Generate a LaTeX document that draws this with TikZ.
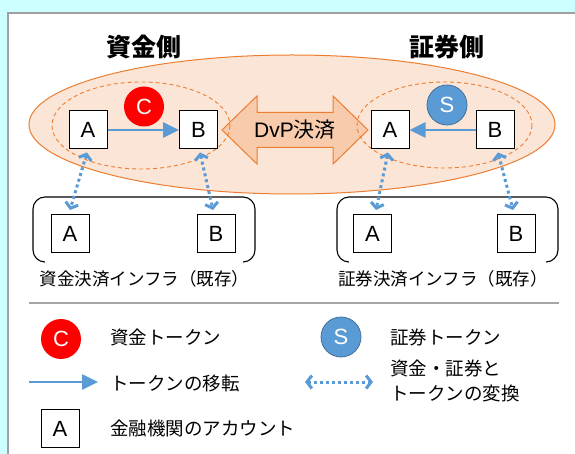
\documentclass[tikz,border=0pt]{standalone}
\usepackage{fontspec}
\setmainfont{Liberation Sans}
\newfontfamily\jp{Noto Sans CJK JP}
\usetikzlibrary{arrows.meta}
\definecolor{bgcyan}{HTML}{CCFFFF}
\definecolor{panelline}{HTML}{A0A0A0}
\definecolor{orangeline}{HTML}{ED7D31}
\definecolor{orangefill}{HTML}{FBE5D6}
\definecolor{dvpfill}{HTML}{F8CBAD}
\definecolor{tokenblue}{HTML}{5B9BD5}
\definecolor{sborder}{HTML}{41719C}
\definecolor{sepgray}{HTML}{A6A6A6}
\begin{document}
\begin{tikzpicture}[x=1pt,y=-1pt,
  acct/.style={draw=black, fill=white, line width=1, minimum width=38, minimum height=38, inner sep=0, font=\fontsize{22}{22}\selectfont},
  token/.style={circle, minimum size=40, inner sep=0, text=white, font=\fontsize{22}{22}\selectfont},
  ctoken/.style={token, fill=red},
  stoken/.style={token, fill=tokenblue, draw=sborder, line width=0.8},
  movearrow/.style={draw=tokenblue, line width=2.6, -{Triangle[length=16pt,width=15pt]}},
  dotarrow/.style={draw=tokenblue, line width=3, dash pattern=on 3pt off 3pt, {Straight Barb[length=5pt,width=13pt]}-{Straight Barb[length=5pt,width=13pt]}},
  infra/.style={draw=black, line width=1.1, rounded corners=12},
  title/.style={font=\jp\bfseries\fontsize{25}{25}\selectfont},
  infralabel/.style={font=\jp\fontsize{17.5}{17.5}\selectfont},
  legtext/.style={anchor=west, font=\jp\fontsize{18.5}{25}\selectfont, align=left, inner sep=0},
  dashell/.style={draw=orangeline, line width=0.9, dash pattern=on 4pt off 3pt}
]
\useasboundingbox (0,0) rectangle (575,454);
\fill[bgcyan] (0,0) rectangle (575,454);
\fill[white] (8,13) rectangle (576,455);
\draw[panelline, line width=1.3] (8,455) -- (8,13) -- (576,13);

% titles
\node[title] (t1) at (144,47) {資金側};
\node[title] (t2) at (447,47) {証券側};

% big ellipse
\draw[orangeline, fill=orangefill, line width=1] (292,124.5) ellipse [x radius=263, y radius=69.5];

% DvP double arrow
\draw[orangeline, fill=dvpfill, line width=1]
  (222,130) -- (257,96) -- (257,112.5) -- (333,112.5) -- (333,96) -- (368,130)
  -- (333,164) -- (333,147.5) -- (257,147.5) -- (257,164) -- cycle;
\node (dvp) at (295,130) {\fontsize{21}{21}\selectfont DvP{\jp 決済}};

% dashed ellipses
\draw[dashell] (141,125.5) ellipse [x radius=89, y radius=43.5];
\draw[dashell] (444.5,125) ellipse [x radius=87.5, y radius=43];

% top accounts
\node[acct] (tLA) at (88,130) {A};
\node[acct] (tLB) at (198.5,130) {B};
\node[acct] (tRA) at (390,130) {A};
\node[acct] (tRB) at (495,130) {B};

\draw[movearrow] (tLA.east) -- (tLB.west);
\draw[movearrow] (tRB.west) -- (tRA.east);

\node[ctoken] (cC) at (144,106.5) {C};
\node[stoken] (cS) at (447,105) {S};

% infrastructures
\draw[infra] (45,262) -- (33,262) -- (33,197) -- (255,197) -- (255,262) -- (243,262);
\draw[infra] (349,262) -- (337,262) -- (337,197) -- (558,197) -- (558,262) -- (546,262);

\node[acct] (bLA) at (70,233.5) {A};
\node[acct] (bLB) at (216,233.5) {B};
\node[acct] (bRA) at (372.5,233.5) {A};
\node[acct] (bRB) at (516,233.5) {B};

\node[infralabel] (il1) at (144.5,279) {資金決済インフラ（既存）};
\node[infralabel] (il2) at (443,279) {証券決済インフラ（既存）};

% conversion arrows
\draw[dotarrow] ([xshift=-1pt,yshift=-3pt]tLA.south) -- ([yshift=4pt]bLA.north);
\draw[dotarrow] ([xshift=1.5pt,yshift=-3pt]tLB.south) -- ([xshift=-3pt,yshift=4pt]bLB.north);
\draw[dotarrow] ([xshift=-2pt,yshift=-3pt]tRA.south) -- ([xshift=3.5pt,yshift=4pt]bRA.north);
\draw[dotarrow] ([xshift=3pt,yshift=-3pt]tRB.south) -- ([xshift=-3pt,yshift=4pt]bRB.north);

% separator
\draw[sepgray, line width=1.2] (29,303) -- (559,303);

% legend
\node[ctoken] (lC) at (61,339) {C};
\node[legtext] (lCt) at (110,337) {資金トークン};
\node[stoken] (lS) at (341,337) {S};
\node[legtext] (lSt) at (390,337) {証券トークン};

\coordinate (m1) at (29,382);
\coordinate (m2) at (98,382);
\draw[movearrow] (m1) -- (m2);
\node[legtext] (lMt) at (110,383) {トークンの移転};

\coordinate (d1) at (305,382);
\coordinate (d2) at (373,382);
\draw[dotarrow] (d1) -- (d2);
\node[legtext] (lDt) at (390,381) {資金・証券と\\トークンの変換};

\node[acct] (lA) at (60,428.5) {A};
\node[legtext] (lAt) at (110,428) {金融機関のアカウント};
\end{tikzpicture}
\end{document}
